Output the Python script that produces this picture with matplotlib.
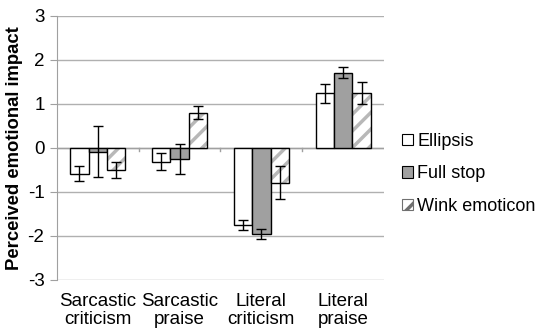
import matplotlib
matplotlib.use("Agg")
import matplotlib.pyplot as plt
import numpy as np
from matplotlib.patches import Patch

plt.rcParams['font.family'] = ['Liberation Sans', 'DejaVu Sans']
plt.rcParams['hatch.linewidth'] = 2.5

categories = ["Sarcastic\ncriticism", "Sarcastic\npraise", "Literal\ncriticism", "Literal\npraise"]
series = ["Ellipsis", "Full stop", "Wink emoticon"]
ellipsis = [-0.59, -0.31, -1.75, 1.24]
full_stop = [-0.08, -0.25, -1.96, 1.71]
wink = [-0.50, 0.80, -0.79, 1.24]
ellipsis_err = [0.17, 0.20, 0.12, 0.22]
full_stop_err = [0.57, 0.33, 0.11, 0.13]
wink_err = [0.18, 0.15, 0.38, 0.25]
yticks = [-3, -2, -1, 0, 1, 2, 3]

fig = plt.figure(figsize=(5.4, 3.34), dpi=100)
ax = fig.add_axes([57/540, 1-280/334, (384-57)/540, (280-16)/334])

x = np.arange(len(categories))
w = 0.225
vals = [ellipsis, full_stop, wink]
errs = [ellipsis_err, full_stop_err, wink_err]
offs = [-w, 0, w]

for v, e, o, i in zip(vals, errs, offs, range(3)):
    if i == 0:
        ax.bar(x + o, v, w, color='white', edgecolor='black', linewidth=1.0, zorder=3)
    elif i == 1:
        ax.bar(x + o, v, w, color='#a0a0a0', edgecolor='black', linewidth=1.0, zorder=3)
    else:
        ax.bar(x + o, v, w, color='white', edgecolor='#b8b8b8', hatch='//', linewidth=0, zorder=3)
        ax.bar(x + o, v, w, fill=False, edgecolor='black', linewidth=1.0, zorder=4)
    ax.errorbar(x + o, v, yerr=e, fmt='none', ecolor='black', elinewidth=1.0,
                capsize=3.5, capthick=1.0, zorder=5)

ax.set_ylim(-3, 3)
ax.set_xlim(-0.5, 3.5)
ax.set_yticks(yticks)
ax.set_yticklabels([str(t) for t in yticks], fontsize=13.5)
ax.yaxis.grid(True, color='#b0b0b0', linewidth=1.0, zorder=0)
ax.set_axisbelow(True)
for s in ['top', 'right', 'bottom']:
    ax.spines[s].set_visible(False)
ax.spines['left'].set_color('#a0a0a0')
ax.tick_params(axis='y', length=5, color='#a0a0a0', pad=4)
ax.axhline(0, color='#a0a0a0', linewidth=1.0, zorder=1)
for b in [0.5, 1.5, 2.5]:
    ax.plot([b, b], [0, -0.06], color='#a0a0a0', linewidth=1.0, zorder=1)
ax.set_xticks(x)
ax.set_xticklabels(categories, fontsize=13.5, linespacing=1.15)
ax.tick_params(axis='x', length=0, pad=9)
ax.set_ylabel("Perceived emotional impact", fontsize=13.3, fontweight='bold', labelpad=3)

handles = [Patch(facecolor='white', edgecolor='black', linewidth=0.8),
           Patch(facecolor='#a0a0a0', edgecolor='black', linewidth=0.8),
           Patch(facecolor='white', edgecolor='#707070', hatch='//', linewidth=0.8)]
fig.legend(handles, series, loc='upper left', bbox_to_anchor=(393/540, 1-124/334),
           frameon=False, fontsize=13, handlelength=0.6, handleheight=0.6,
           handletextpad=0.25, labelspacing=0.85, borderpad=0)

fig.savefig("out.png", dpi=100)
